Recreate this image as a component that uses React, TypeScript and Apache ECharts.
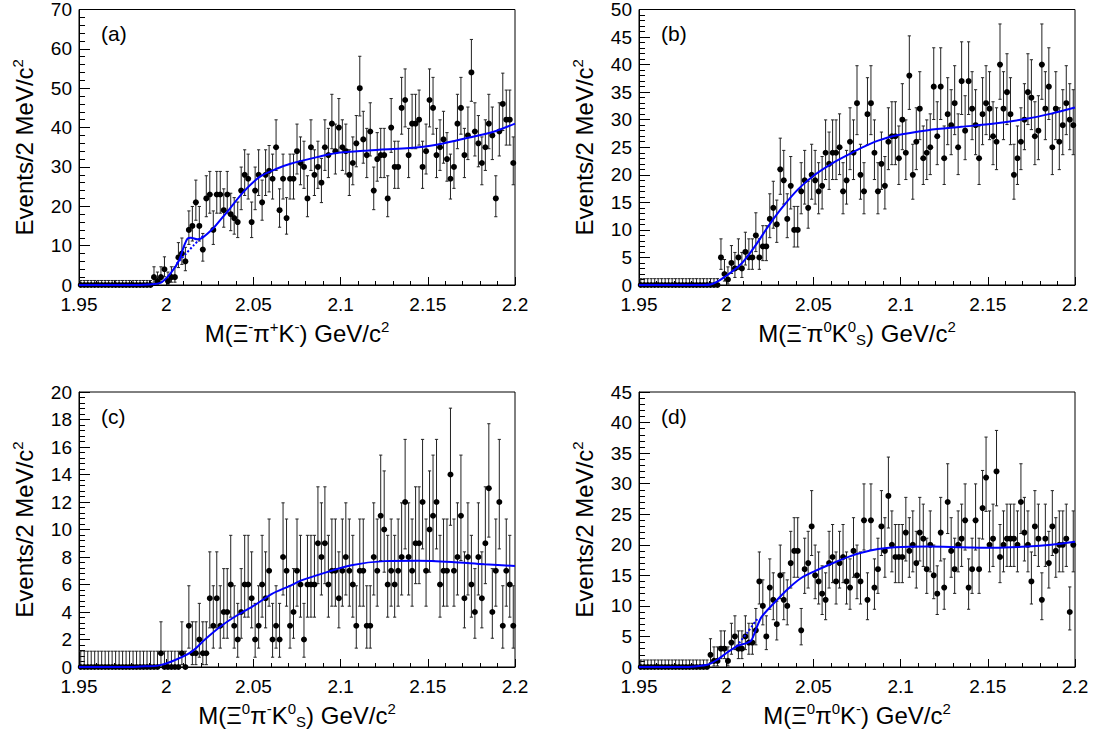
import { useEffect, useRef } from "react";
import * as echarts from "echarts";

const FONT = "'Liberation Sans', Arial, Helvetica, sans-serif";

// events per 2 MeV bin, 1.95 - 2.20 GeV/c2 (125 bins)
const COUNTS_A = [
  0, 0, 0, 0, 0, 0, 0, 0, 0, 0, 0, 0, 0, 0, 0, 0, 0, 0, 0, 0, 0,
  2, 1, 2, 4, 1, 2, 2, 7, 8, 6, 14, 15, 21, 15, 9, 22, 23, 14, 23, 23,
  19, 23, 18, 17, 16, 24, 28, 27, 16, 24, 28, 21, 28, 29, 27, 35, 19, 27, 17, 27,
  27, 34, 31, 30, 22, 35, 28, 30, 26, 35, 33, 41, 34, 40, 35, 34, 28, 31, 36, 50,
  37, 33, 39, 24, 32, 33, 33, 22, 40, 30, 30, 45, 47, 33, 41, 41, 42, 30, 34, 47,
  45, 33, 35, 37, 32, 27, 30, 41, 45, 33, 38, 54, 39, 36, 31, 35, 41, 38, 22, 39,
  46, 42, 42, 31,
];
const COUNTS_B = [
  0, 0, 0, 0, 0, 0, 0, 0, 0, 0, 0, 0, 0, 0, 0, 0, 0, 0, 0, 0, 0, 0, 0,
  5, 2, 1, 4, 3, 5, 3, 6, 5, 5, 9, 5, 7, 7, 12, 14, 11, 21, 19, 12, 18, 10,
  10, 17, 19, 14, 20, 19, 17, 18, 24, 22, 24, 24, 25, 17, 19, 26, 24, 33, 20, 17,
  31, 33, 24, 17, 22, 18, 26, 27, 27, 23, 30, 24, 38, 20, 26, 32, 23, 24, 25, 36,
  27, 36, 23, 31, 29, 33, 25, 37, 28, 37, 32, 29, 23, 31, 33, 32, 27, 26, 40, 32,
  35, 31, 20, 23, 26, 30, 35, 34, 27, 28, 40, 32, 36, 25, 32, 26, 29, 33, 30, 29,
];
const COUNTS_C = [
  0, 0, 0, 0, 0, 0, 0, 0, 0, 0, 0, 0, 0, 0, 0, 0, 0, 0, 0, 0, 0, 0, 0,
  1, 0, 0, 0, 0, 0, 1, 0, 3, 1, 1, 2, 1, 1, 5, 3, 5, 3, 4, 4, 6, 3,
  2, 4, 6, 6, 5, 2, 3, 6, 5, 7, 2, 3, 2, 8, 7, 3, 4, 7, 6, 2,
  6, 6, 6, 9, 8, 9, 6, 7, 7, 5, 7, 8, 7, 6, 3, 7, 7, 3, 3, 8,
  7, 11, 10, 6, 7, 6, 7, 8, 12, 8, 7, 9, 9, 12, 7, 10, 11, 12, 6, 7,
  7, 14, 7, 8, 11, 5, 8, 6, 4, 8, 5, 9, 13, 4, 7, 12, 3, 7, 6, 3,
];
const COUNTS_D = [
  0, 0, 0, 0, 0, 0, 0, 0, 0, 0, 0, 0, 0, 0, 0, 0, 0, 0, 0, 0,
  2, 1, 1, 3, 3, 1, 4, 5, 3, 3, 5, 4, 4, 6, 14, 10, 5, 13, 11, 7,
  15, 11, 10, 17, 19, 19, 6, 16, 17, 23, 15, 14, 12, 11, 17, 18, 14, 17, 18, 14,
  13, 19, 15, 14, 24, 11, 24, 13, 16, 23, 19, 28, 20, 18, 18, 18, 22, 19, 20, 17,
  22, 21, 16, 20, 15, 12, 22, 13, 27, 19, 16, 20, 21, 24, 13, 16, 24, 16, 26, 31,
  20, 21, 32, 18, 20, 21, 21, 21, 20, 27, 22, 20, 14, 23, 21, 11, 21, 17, 23, 19,
  20, 20, 21, 9, 20,
];

// fitted curves, [mass, events]
const FIT_A = [
  [1.95, 0], [1.985, 0], [1.99, 0.1], [1.997, 0.6], [2.0026, 3], [2.0074, 6.3],
  [2.0103, 10], [2.0122, 11.8], [2.0141, 12], [2.0179, 11.6], [2.0207, 12],
  [2.0236, 13], [2.0274, 14.6], [2.0312, 16.6], [2.035, 18.6], [2.0446, 23.8],
  [2.054, 27.6], [2.0637, 29.6], [2.0713, 30.8], [2.0875, 32.6], [2.097, 33.5],
  [2.116, 34.2], [2.1447, 35], [2.158, 35.9], [2.173, 37.4], [2.1867, 38.8], [2.2, 41],
];
const BKG_A = [[2.006, 5.4], [2.011, 7.8], [2.016, 10.2], [2.0215, 12.6]];

const FIT_B = [
  [1.95, 0], [1.985, 0], [1.9916, 0.15], [1.9993, 1.5], [2.0088, 3.9], [2.0164, 7],
  [2.024, 10.6], [2.0317, 13.9], [2.0413, 17.4], [2.0508, 20], [2.0604, 22],
  [2.0709, 23.8], [2.0775, 24.9], [2.0871, 26.2], [2.0966, 27.1], [2.1157, 28.1],
  [2.1348, 28.7], [2.1539, 29.3], [2.173, 30.2], [2.1864, 31.1], [2.2, 32.2],
];

const FIT_C = [
  [1.95, 0], [1.98, 0], [1.9878, 0.05], [1.9954, 0.1], [2.0031, 0.4], [2.0145, 1.1],
  [2.0222, 2.0], [2.0317, 3.0], [2.0412, 3.8], [2.0508, 4.5], [2.0604, 5.3],
  [2.0709, 5.9], [2.0775, 6.3], [2.0871, 6.7], [2.1062, 7.4], [2.1252, 7.7],
  [2.1443, 7.73], [2.1635, 7.64], [2.1825, 7.47], [2.2, 7.35],
];

const FIT_D = [
  [1.95, 0], [1.975, 0], [1.9821, 0.1], [1.9897, 0.4], [1.9954, 1.3], [2.0012, 2.5],
  [2.0069, 3.5], [2.0117, 3.9], [2.0145, 4.4], [2.0174, 6.4], [2.0203, 8.2],
  [2.0269, 10.3], [2.0355, 12.8], [2.0432, 14.6], [2.0508, 15.7], [2.0604, 16.9],
  [2.0709, 18.1], [2.0775, 18.7], [2.0871, 19.3], [2.0966, 19.6], [2.1157, 19.7],
  [2.1348, 19.6], [2.1539, 19.5], [2.173, 19.7], [2.1864, 20.0], [2.2, 20.5],
];
const BKG_D = [[2.006, 3.4], [2.012, 5.6], [2.018, 7.9]];

const MASS_MIN = 1.95;
const MASS_MAX = 2.2;
const BIN_WIDTH = 0.002;
const MASS_STEP = 0.05;

const X_NAMES = [
  "{n|M(Ξ}{sup|-}{n|π}{sup|+}{n|K}{sup|-}{n|) GeV/c}{sup|2}",
  "{n|M(Ξ}{sup|-}{n|π}{sup|0}{n|K}{sup|0}{sub|S}{n|) GeV/c}{sup|2}",
  "{n|M(Ξ}{sup|0}{n|π}{sup|-}{n|K}{sup|0}{sub|S}{n|) GeV/c}{sup|2}",
  "{n|M(Ξ}{sup|0}{n|π}{sup|0}{n|K}{sup|-}{n|) GeV/c}{sup|2}",
];
const Y_NAME = "{n|Events/2 MeV/c}{sup|2}";
const PANEL_LABELS = ["(a)", "(b)", "(c)", "(d)"];
const Y_MAX = [70, 50, 20, 45];
const Y_STEP = [10, 5, 2, 5];

const PANELS = [
  { counts: COUNTS_A, fit: FIT_A, bkg: BKG_A, left: 79, top: 9, height: 276 },
  { counts: COUNTS_B, fit: FIT_B, bkg: null, left: 639, top: 9, height: 276 },
  { counts: COUNTS_C, fit: FIT_C, bkg: null, left: 79, top: 392, height: 275 },
  { counts: COUNTS_D, fit: FIT_D, bkg: BKG_D, left: 639, top: 392, height: 275 },
];

// 68% Poisson interval (Wilson-Hilferty approximation)
const poissonBand = (n: number) => {
  if (n === 0) return [0, 1.15];
  const lo = n * Math.pow(1 - 1 / (9 * n) - 1 / (3 * Math.sqrt(n)), 3);
  const m = n + 1;
  const hi = m * Math.pow(1 - 1 / (9 * m) + 1 / (3 * Math.sqrt(m)), 3);
  return [lo, hi];
};

const rich = {
  n: { fontSize: 24, lineHeight: 28, fontFamily: FONT, color: "#000" },
  sup: { fontSize: 15, lineHeight: 15, verticalAlign: "top", fontFamily: FONT, color: "#000" },
  sub: { fontSize: 15, lineHeight: 15, verticalAlign: "bottom", fontFamily: FONT, color: "#000" },
};

const App = () => {
  const chartRef = useRef<HTMLDivElement>(null);

  useEffect(() => {
    if (!chartRef.current) return;
    const chart = echarts.init(chartRef.current, undefined, { renderer: "svg" });

    const grids: any[] = [];
    const xAxes: any[] = [];
    const yAxes: any[] = [];
    const series: any[] = [];
    const graphics: any[] = [];

    PANELS.forEach((p, k) => {
      grids.push({
        left: p.left,
        top: p.top,
        width: 436,
        height: p.height,
        show: true,
        borderColor: "#000",
        borderWidth: 1,
        backgroundColor: "transparent",
      });

      xAxes.push({
        type: "value",
        gridIndex: k,
        min: MASS_MIN,
        max: MASS_MAX,
        interval: MASS_STEP,
        name: X_NAMES[k],
        nameLocation: "middle",
        nameGap: 34,
        nameTextStyle: { rich },
        axisLine: { lineStyle: { color: "#000", width: 1 } },
        axisTick: { inside: true, length: 8, lineStyle: { color: "#000" } },
        minorTick: { show: true, splitNumber: 5, length: 4, lineStyle: { color: "#000" } },
        splitLine: { show: false },
        axisLabel: {
          color: "#000",
          fontSize: 19,
          fontFamily: FONT,
          margin: 10,
          formatter: (v: number) => String(Math.round(v * 100) / 100),
        },
      });

      yAxes.push({
        type: "value",
        gridIndex: k,
        min: 0,
        max: Y_MAX[k],
        interval: Y_STEP[k],
        name: Y_NAME,
        nameLocation: "middle",
        nameGap: 41,
        nameTextStyle: { rich },
        axisLine: { show: true, lineStyle: { color: "#000", width: 1 } },
        axisTick: { show: true, inside: true, length: 11, lineStyle: { color: "#000" } },
        minorTick: { show: true, splitNumber: 5, length: 6, lineStyle: { color: "#000" } },
        splitLine: { show: false },
        axisLabel: { color: "#000", fontSize: 19, fontFamily: FONT, margin: 7 },
      });

      const centers = p.counts.map((_, i) => MASS_MIN + BIN_WIDTH * (i + 0.5));

      series.push({
        type: "custom",
        xAxisIndex: k,
        yAxisIndex: k,
        data: p.counts.map((n, i) => {
          const [lo, hi] = poissonBand(n);
          return [centers[i], lo, hi];
        }),
        encode: { x: 0, y: [1, 2] },
        renderItem: (_params: any, api: any) => {
          const x = api.value(0);
          const a = api.coord([x, api.value(1)]);
          const b = api.coord([x, api.value(2)]);
          const style = { stroke: "#222", lineWidth: 1 };
          const c = 1.6;
          return {
            type: "group",
            children: [
              { type: "line", shape: { x1: a[0], y1: a[1], x2: b[0], y2: b[1] }, style },
              { type: "line", shape: { x1: a[0] - c, y1: a[1], x2: a[0] + c, y2: a[1] }, style },
              { type: "line", shape: { x1: b[0] - c, y1: b[1], x2: b[0] + c, y2: b[1] }, style },
            ],
          };
        },
        silent: true,
        z: 2,
      });

      series.push({
        type: "scatter",
        xAxisIndex: k,
        yAxisIndex: k,
        data: p.counts.map((n, i) => [centers[i], n]),
        symbol: "circle",
        symbolSize: 6,
        itemStyle: { color: "#000", opacity: 1 },
        silent: true,
        z: 3,
      });

      series.push({
        type: "line",
        xAxisIndex: k,
        yAxisIndex: k,
        data: p.fit,
        smooth: 0.3,
        showSymbol: false,
        lineStyle: { color: "#0000ff", width: 2 },
        silent: true,
        z: 4,
      });

      if (p.bkg) {
        series.push({
          type: "line",
          xAxisIndex: k,
          yAxisIndex: k,
          data: p.bkg,
          smooth: 0.3,
          showSymbol: false,
          lineStyle: { color: "#0000ff", width: 2, type: "dotted" },
          silent: true,
          z: 4,
        });
      }

      graphics.push({
        type: "text",
        left: p.left + 22,
        top: p.top + 14,
        style: { text: PANEL_LABELS[k], fontSize: 21, fontFamily: FONT, fill: "#000" },
      });
    });

    chart.setOption({
      animation: false,
      backgroundColor: "#fff",
      textStyle: { fontFamily: FONT },
      grid: grids,
      xAxis: xAxes,
      yAxis: yAxes,
      series,
      graphic: graphics,
    });

    return () => {
      chart.dispose();
    };
  }, []);

  return (
    <div
      ref={chartRef}
      style={{ position: "fixed", left: 0, top: 0, width: 1096, height: 740, background: "#fff" }}
    />
  );
};

export default App;
